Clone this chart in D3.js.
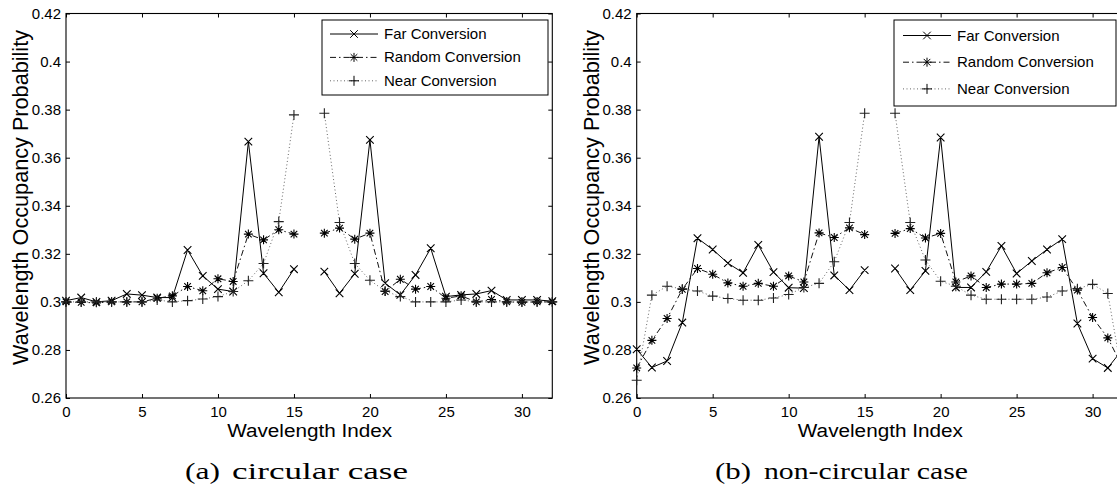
<!DOCTYPE html>
<html>
<head>
<meta charset="utf-8">
<script src="https://cdn.jsdelivr.net/npm/d3@7"></script>
<style>
  html, body { margin: 0; padding: 0; background: #fff; }
  svg { display: block; }
  text { font-family: "Liberation Sans", Arial, Helvetica, sans-serif; fill: #000; }
  .caption { font-family: "Liberation Serif", "Times New Roman", serif; }
</style>
</head>
<body>
<svg id="chart" width="1117" height="487"></svg>
<script>
// wavelength index 0..32, index 16 has no value
const wavelengths = d3.range(0, 33);
const seriesNames = ['Far Conversion', 'Random Conversion', 'Near Conversion'];
const xTicks = [0, 5, 10, 15, 20, 25, 30];
const yTicks = [0.26, 0.28, 0.3, 0.32, 0.34, 0.36, 0.38, 0.4, 0.42];
const captions = ['(a)', 'circular case', '(b)', 'non-circular case'];

// (a) circular case
const farCircular = [0.3005, 0.3018, 0.3000, 0.3005, 0.3033, 0.3028, 0.3018, 0.3018, 0.3216, 0.3108, 0.3053,
  0.3043, 0.3667, 0.3119, 0.3040, 0.3136, null, 0.3126, 0.3036, 0.3117, 0.3674, 0.3078, 0.3029, 0.3112,
  0.3223, 0.3022, 0.3029, 0.3033, 0.3047, 0.3008, 0.3008, 0.3008, 0.3003];
const randomCircular = [0.3000, 0.2998, 0.2996, 0.3000, 0.3000, 0.3000, 0.3015, 0.3025, 0.3064, 0.3046, 0.3096,
  0.3085, 0.3282, 0.3258, 0.3300, 0.3282, null, 0.3286, 0.3307, 0.3261, 0.3286, 0.3043, 0.3094, 0.3053,
  0.3064, 0.3015, 0.3025, 0.3000, 0.3010, 0.3000, 0.2998, 0.3000, 0.3000];
const nearCircular = [0.3000, 0.3000, 0.3000, 0.3000, 0.3000, 0.3000, 0.3008, 0.3000, 0.3005, 0.3012, 0.3022,
  0.3043, 0.3088, 0.3160, 0.3334, 0.3778, null, 0.3785, 0.3330, 0.3160, 0.3090, 0.3045, 0.3022, 0.3000,
  0.3000, 0.3000, 0.3008, 0.3000, 0.3000, 0.3000, 0.3000, 0.3000, 0.3000];

// (b) non-circular case
const farNonCircular = [0.2803, 0.2727, 0.2754, 0.2914, 0.3265, 0.3218, 0.3161, 0.3121, 0.3237, 0.3124, 0.3059,
  0.3057, 0.3687, 0.3110, 0.3049, 0.3132, null, 0.3139, 0.3049, 0.3129, 0.3684, 0.3060, 0.3060, 0.3125,
  0.3233, 0.3118, 0.3170, 0.3218, 0.3261, 0.2910, 0.2764, 0.2725, 0.2805];
const randomNonCircular = [0.2725, 0.2840, 0.2931, 0.3052, 0.3139, 0.3115, 0.3079, 0.3065, 0.3077, 0.3065, 0.3108,
  0.3083, 0.3287, 0.3268, 0.3308, 0.3280, null, 0.3285, 0.3305, 0.3266, 0.3285, 0.3083, 0.3108, 0.3060,
  0.3074, 0.3074, 0.3077, 0.3121, 0.3143, 0.3049, 0.2935, 0.2850, 0.2725];
const nearNonCircular = [0.2674, 0.3028, 0.3065, 0.3054, 0.3045, 0.3024, 0.3014, 0.3007, 0.3007, 0.3016, 0.3031,
  0.3060, 0.3077, 0.3167, 0.3330, 0.3785, null, 0.3785, 0.3330, 0.3174, 0.3086, 0.3065, 0.3028, 0.3011,
  0.3011, 0.3011, 0.3011, 0.3020, 0.3045, 0.3055, 0.3073, 0.3035, 0.2674];

const svg = d3.select('#chart');

// line style + marker per series
const styles = [
  { dash: null, color: '#000', marker: 'x' },
  { dash: '6,3,1.5,3', color: '#111', marker: 'star' },
  { dash: '1,2.5', color: '#666', marker: 'plus' }
];

function markerPath(type, cx, cy) {
  const p = d3.path();
  if (type === 'x' || type === 'star') {
    const s = type === 'x' ? 3.8 : 3.3;
    p.moveTo(cx - s, cy - s); p.lineTo(cx + s, cy + s);
    p.moveTo(cx - s, cy + s); p.lineTo(cx + s, cy - s);
  }
  if (type === 'plus' || type === 'star') {
    const s = type === 'plus' ? 5 : 4.5;
    p.moveTo(cx - s, cy); p.lineTo(cx + s, cy);
    p.moveTo(cx, cy - s); p.lineTo(cx, cy + s);
  }
  return p.toString();
}

function drawPanel(opts) {
  const x = d3.scaleLinear().domain([0, 32]).range([opts.left, opts.left + 486.3]);
  const y = d3.scaleLinear().domain([0.26, 0.42]).range([398, 13.5]);
  const g = svg.append('g');

  // MATLAB style box with inward ticks on all sides
  g.append('g')
    .attr('transform', `translate(0,${y(0.26)})`)
    .call(d3.axisBottom(x).tickValues(xTicks).tickSizeInner(-4).tickSizeOuter(0).tickPadding(8))
    .call(a => a.select('.domain').remove())
    .call(a => a.selectAll('text').style('font-size', '15px').attr('dy', '0.71em'));
  g.append('g')
    .attr('transform', `translate(0,${y(0.42)})`)
    .call(d3.axisTop(x).tickValues(xTicks).tickSizeInner(-4).tickSizeOuter(0).tickFormat(''))
    .call(a => a.select('.domain').remove());
  g.append('g')
    .attr('transform', `translate(${opts.left},0)`)
    .call(d3.axisLeft(y).tickValues(yTicks).tickSizeInner(-4).tickSizeOuter(0).tickPadding(5)
      .tickFormat(d => String(+d.toFixed(2))))
    .call(a => a.select('.domain').remove())
    .call(a => a.selectAll('text').style('font-size', '15px'));
  g.append('g')
    .attr('transform', `translate(${x(32)},0)`)
    .call(d3.axisRight(y).tickValues(yTicks).tickSizeInner(-4).tickSizeOuter(0).tickFormat(''))
    .call(a => a.select('.domain').remove());
  g.selectAll('.tick line').attr('stroke', '#000');
  g.selectAll('.tick text').attr('fill', '#000');

  g.append('rect')
    .attr('x', x(0)).attr('y', y(0.42))
    .attr('width', x(32) - x(0)).attr('height', y(0.26) - y(0.42))
    .attr('fill', 'none').attr('stroke', '#000').attr('stroke-width', 1.1);

  // series
  const line = d3.line()
    .defined(d => d[1] !== null)
    .x(d => x(d[0]))
    .y(d => y(d[1]));

  opts.series.forEach((vals, i) => {
    const st = styles[i];
    const pts = wavelengths.map(w => [w, vals[w]]);
    g.append('path')
      .attr('d', line(pts))
      .attr('fill', 'none')
      .attr('stroke', st.color)
      .attr('stroke-width', 1)
      .attr('stroke-dasharray', st.dash);
    g.append('path')
      .attr('d', pts.filter(d => d[1] !== null).map(d => markerPath(st.marker, x(d[0]), y(d[1]))).join(''))
      .attr('fill', 'none')
      .attr('stroke', i === 2 ? '#222' : '#000')
      .attr('stroke-width', 1.1);
  });

  // legend
  const lg = opts.legend;
  g.append('rect')
    .attr('x', lg.x).attr('y', lg.y).attr('width', lg.w).attr('height', lg.h)
    .attr('fill', '#fff').attr('stroke', '#000').attr('stroke-width', 1);
  seriesNames.forEach((name, i) => {
    const st = styles[i];
    const ry = lg.y + lg.row0 + i * lg.step;
    g.append('line')
      .attr('x1', lg.lineX).attr('x2', lg.lineX + 48).attr('y1', ry).attr('y2', ry)
      .attr('stroke', st.color).attr('stroke-width', 1).attr('stroke-dasharray', st.dash);
    g.append('path')
      .attr('d', markerPath(st.marker, lg.lineX + 24, ry))
      .attr('fill', 'none').attr('stroke', '#000').attr('stroke-width', 1);
    g.append('text')
      .attr('x', lg.lineX + 54).attr('y', ry + 5)
      .style('font-size', '15px')
      .text(name);
  });

  // axis titles
  g.append('text')
    .attr('x', (x(0) + x(32)) / 2 - 82).attr('y', 437)
    .attr('textLength', 165).attr('lengthAdjust', 'spacingAndGlyphs')
    .style('font-size', '18px')
    .text('Wavelength Index');
  g.append('text')
    .attr('transform', `translate(${opts.left - 38},365) rotate(-90)`)
    .attr('textLength', 335).attr('lengthAdjust', 'spacingAndGlyphs')
    .style('font-size', '22px')
    .text('Wavelength Occupancy Probability');

  // caption
  g.append('text').attr('class', 'caption')
    .attr('x', opts.cap[0]).attr('y', 479)
    .attr('textLength', opts.cap[1] - opts.cap[0]).attr('lengthAdjust', 'spacingAndGlyphs')
    .style('font-size', '24px')
    .text(opts.capText[0]);
  g.append('text').attr('class', 'caption')
    .attr('x', opts.cap[2]).attr('y', 479)
    .attr('textLength', opts.cap[3] - opts.cap[2]).attr('lengthAdjust', 'spacingAndGlyphs')
    .style('font-size', '24px')
    .text(opts.capText[1]);
}

drawPanel({
  left: 66,
  series: [farCircular, randomCircular, nearCircular],
  legend: { x: 322, y: 20, w: 226, h: 75, row0: 14, step: 23.4, lineX: 330 },
  cap: [185, 220, 232, 408],
  capText: [captions[0], captions[1]]
});

drawPanel({
  left: 636.7,
  series: [farNonCircular, randomNonCircular, nearNonCircular],
  legend: { x: 894, y: 20, w: 222, h: 86, row0: 15.5, step: 26.7, lineX: 903 },
  cap: [715, 751, 764, 968],
  capText: [captions[2], captions[3]]
});
</script>
</body>
</html>
